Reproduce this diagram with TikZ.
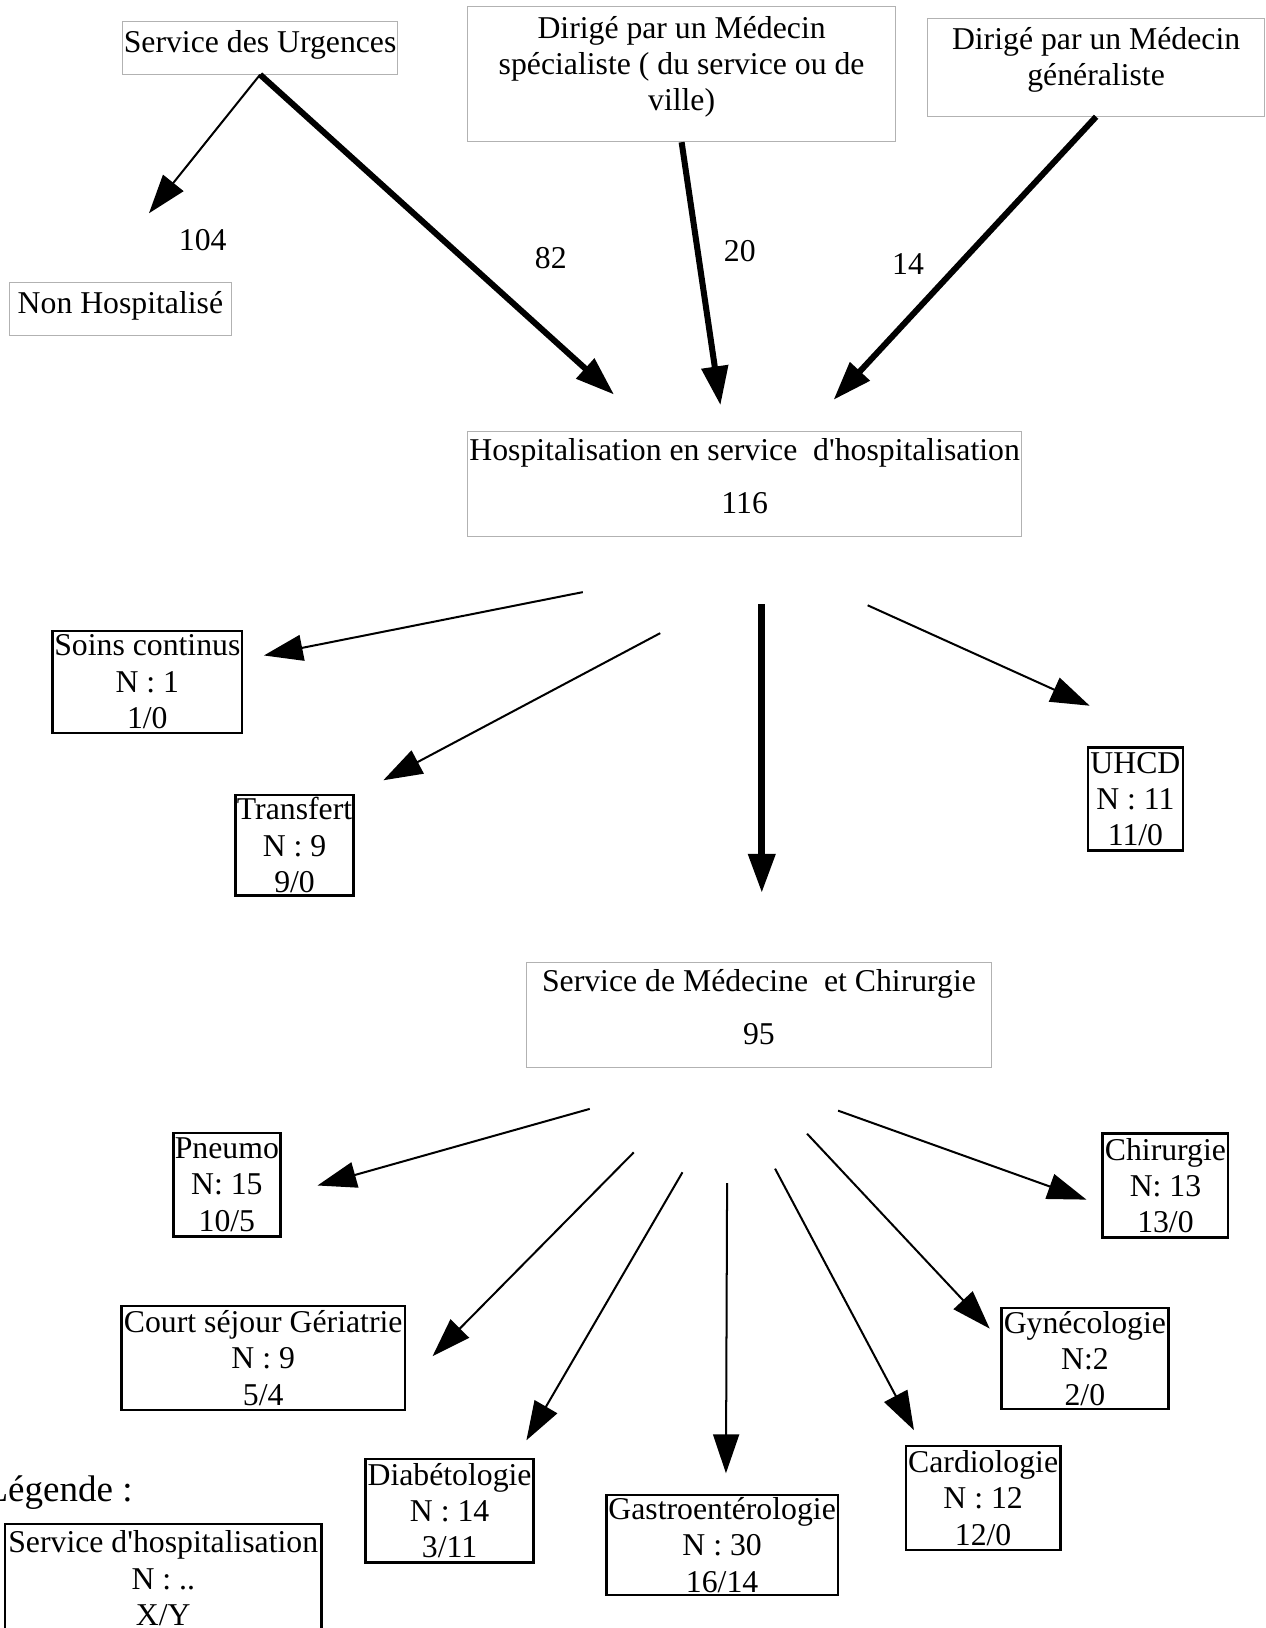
\documentclass[tikz,border=0pt]{standalone}
\usepackage{fontspec}
\setmainfont{Liberation Serif}[Ligatures=TeXOff]
\usetikzlibrary{arrows.meta}

\begin{document}
\begin{tikzpicture}[x=0.02cm, y=-0.02cm, font=\fontsize{17.4pt}{19.9pt}\selectfont,
  grisbox/.style={draw=gray!60, line width=0.5pt, inner sep=0pt, align=center},
  svcbox/.style={draw, line width=1.3pt, inner sep=0pt, align=center},
  num/.style={inner sep=0pt},
  arr/.style={-{Triangle[length=7.5mm, width=5mm]}, line width=1.1pt},
  grosarr/.style={arr, line width=3.3pt}]
\useasboundingbox (0,0) rectangle (1219,1568);
% origine des patients
\node[grisbox, minimum width=5.3cm, minimum height=1.01cm, text depth=0.26cm] (urg) at (250.5,46.2) {Service des Urgences};
\node[grisbox, minimum width=8.24cm, minimum height=2.61cm, text depth=0.4cm] (spec) at (656.5,71.3)
  {Dirigé par un Médecin\\spécialiste ( du service ou de\\ville)};
\node[grisbox, minimum width=6.49cm, minimum height=1.88cm, text depth=0.42cm] (gen) at (1055.7,65)
  {Dirigé par un Médecin\\généraliste};
\node[grisbox, minimum width=4.26cm, minimum height=1.02cm, text depth=0.25cm] (nonh) at (116,298) {Non Hospitalisé};
% effectifs
\node[num] (n104) at (195.3,231) {104};
\node[num] (n82) at (530.5,248.7) {82};
\node[num] (n20) at (712.5,241.4) {20};
\node[num] (n14) at (874.6,254.5) {14};
\coordinate (nonh-in) at (143.5,205.4);
\coordinate (hosp-in1) at (591.4,380);
\coordinate (hosp-in2) at (693.9,390.3);
\coordinate (hosp-in3) at (802.8,385.1);
\draw[arr] (urg.south) -- (nonh-in);
\draw[grosarr] (urg.south) -- (hosp-in1);
\draw[grosarr] (spec.south) -- (hosp-in2);
\draw[grosarr] (gen.south) -- (hosp-in3);
% hospitalisation
\node[grisbox, minimum width=10.67cm, minimum height=2.03cm, text depth=0.3cm] (hosp) at (717.2,466.1)
  {Hospitalisation en service~ d'hospitalisation\\[9pt]116};
\node[svcbox, minimum width=3.65cm, minimum height=1.97cm] (soins) at (141.9,656.8) {Soins continus\\N : 1\\1/0};
\node[svcbox, minimum width=2.27cm, minimum height=1.94cm] (transf) at (283.7,814) {Transfert\\N : 9\\9/0};
\node[svcbox, minimum width=1.83cm, minimum height=1.98cm] (uhcd) at (1093.6,769.5) {UHCD\\N : 11\\11/0};
\coordinate (h-soins) at (561.3,570.3);  \coordinate (soins-in) at (254.2,631.3);
\coordinate (h-transf) at (635.9,609.8); \coordinate (transf-in) at (369.2,751.5);
\coordinate (h-med) at (733.7,582.1);    \coordinate (med-in) at (733.7,860);
\coordinate (h-uhcd) at (835.7,583);     \coordinate (uhcd-in) at (1049.5,679.7);
\draw[arr] (h-soins) -- (soins-in);
\draw[arr] (h-transf) -- (transf-in);
\draw[grosarr, line width=3.8pt] (h-med) -- (med-in);
\draw[arr] (h-uhcd) -- (uhcd-in);
% medecine et chirurgie
\node[grisbox, minimum width=8.96cm, minimum height=2.02cm, text depth=0.3cm] (med) at (731,977.5)
  {Service de Médecine~ et Chirurgie\\[9pt]95};
\node[svcbox, minimum width=2.06cm, minimum height=2cm] (pneumo) at (218.5,1141) {Pneumo\\N: 15\\10/5};
\node[svcbox, minimum width=5.46cm, minimum height=2cm] (court) at (253.5,1308) {Court séjour Gériatrie\\N : 9\\5/4};
\node[svcbox, minimum width=3.24cm, minimum height=2cm] (diab) at (433,1455) {Diabétologie\\N : 14\\3/11};
\node[svcbox, minimum width=4.46cm, minimum height=1.93cm] (gastro) at (695.5,1488) {Gastroentérologie\\N : 30\\16/14};
\node[svcbox, minimum width=2.98cm, minimum height=2.01cm] (cardio) at (946.9,1442.7) {Cardiologie\\N : 12\\12/0};
\node[svcbox, minimum width=3.22cm, minimum height=1.94cm] (gyn) at (1044.9,1308.5) {Gynécologie\\N:2\\2/0};
\node[svcbox, minimum width=2.42cm, minimum height=2.01cm] (chir) at (1122.5,1141.8) {Chirurgie\\N: 13\\13/0};
\coordinate (m-pneumo) at (568,1068);     \coordinate (pneumo-in) at (305.8,1141.8);
\coordinate (m-court) at (610.4,1109.9);  \coordinate (court-in) at (416.6,1306.2);
\coordinate (m-diab) at (657.3,1129.1);   \coordinate (diab-in) at (507,1387.2);
\coordinate (m-gastro) at (700.3,1139.4); \coordinate (gastro-in) at (699.2,1419);
\coordinate (m-cardio) at (746.5,1125.6); \coordinate (cardio-in) at (880.3,1377.5);
\coordinate (m-gyn) at (777.3,1091.9);    \coordinate (gyn-in) at (953.2,1279.6);
\coordinate (m-chir) at (807.2,1069.7);   \coordinate (chir-in) at (1046.4,1155.4);
\draw[arr] (m-pneumo) -- (pneumo-in);
\draw[arr] (m-court) -- (court-in);
\draw[arr] (m-diab) -- (diab-in);
\draw[arr] (m-gastro) -- (gastro-in);
\draw[arr] (m-cardio) -- (cardio-in);
\draw[arr] (m-gyn) -- (gyn-in);
\draw[arr] (m-chir) -- (chir-in);
% legende
\node[inner sep=0pt, anchor=base east, font=\fontsize{20.3pt}{23pt}\selectfont] (leg) at (128,1446) {Légende :};
\node[svcbox, minimum width=6.1cm, minimum height=2.08cm] (legbox) at (157.25,1520) {Service d'hospitalisation\\N : ..\\X/Y};
\end{tikzpicture}
\end{document}
